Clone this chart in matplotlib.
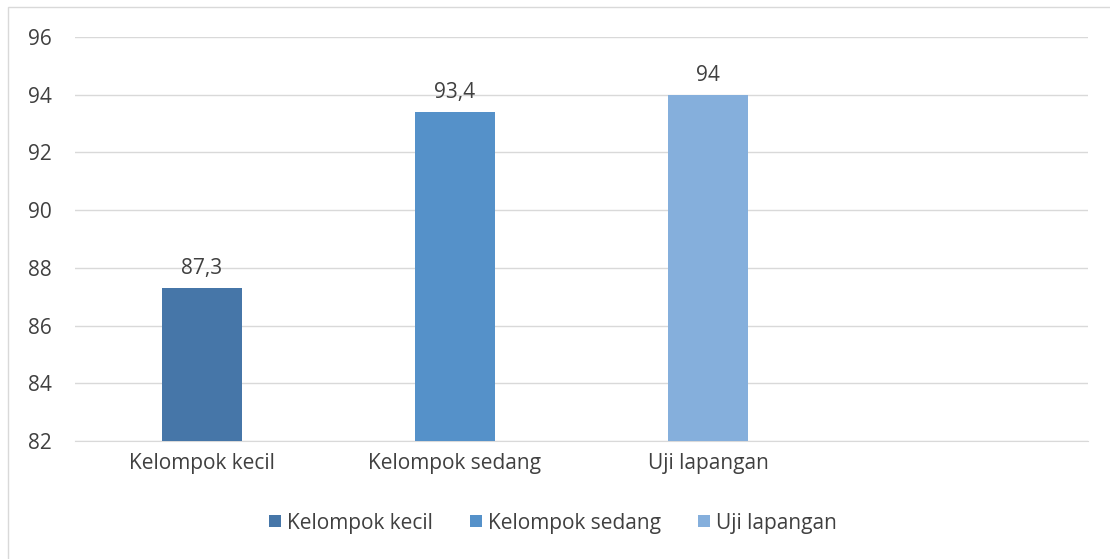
import matplotlib.pyplot as plt
from matplotlib.patches import Rectangle

categories = ['Kelompok kecil', 'Kelompok sedang', 'Uji lapangan']
values = [87.3, 93.4, 94]
labels = ['87,3', '93,4', '94']
colors = ['#4676A8', '#5591C9', '#85AFDC']

plt.rcParams['font.family'] = ['Open Sans', 'DejaVu Sans']
fs = 15

fig = plt.figure(figsize=(11.1, 5.59), dpi=100)
ax = fig.add_axes([75/1110, 1-441/559, (1088-75)/1110, (441-37)/559])

for i, (c, v, col) in enumerate(zip(categories, values, colors)):
    ax.bar(i, v - 82, bottom=82, width=0.315, color=col, label=c, zorder=3)
    ax.text(i, v + 0.3, labels[i], ha='center', va='bottom', fontsize=fs, color='#404040')

ax.set_xlim(-0.5, 3.5)
ax.set_ylim(82, 96)
ax.set_yticks(range(82, 97, 2))
ax.set_xticks(range(3))
ax.set_xticklabels(categories)
ax.tick_params(axis='both', length=0, labelsize=fs, labelcolor='#404040')
ax.tick_params(axis='y', pad=17)
ax.tick_params(axis='x', pad=9)
ax.grid(axis='y', color='#D9D9D9', linewidth=1, zorder=0)
for s in ['top', 'right', 'left']:
    ax.spines[s].set_visible(False)
ax.spines['bottom'].set_color('#D9D9D9')

leg = fig.legend(loc='center', bbox_to_anchor=(553/1110, 1-523/559), ncol=3, frameon=False,
                 fontsize=fs, handlelength=0.55, handleheight=0.55, columnspacing=1.8,
                 handletextpad=0.3)
for t in leg.get_texts():
    t.set_color('#404040')

fig.patches.append(Rectangle((8/1110, -0.01), 1.02, 1-7/559 + 0.01, transform=fig.transFigure,
                             fill=False, edgecolor='#D9D9D9', linewidth=1))

fig.savefig('out.png', dpi=100)
